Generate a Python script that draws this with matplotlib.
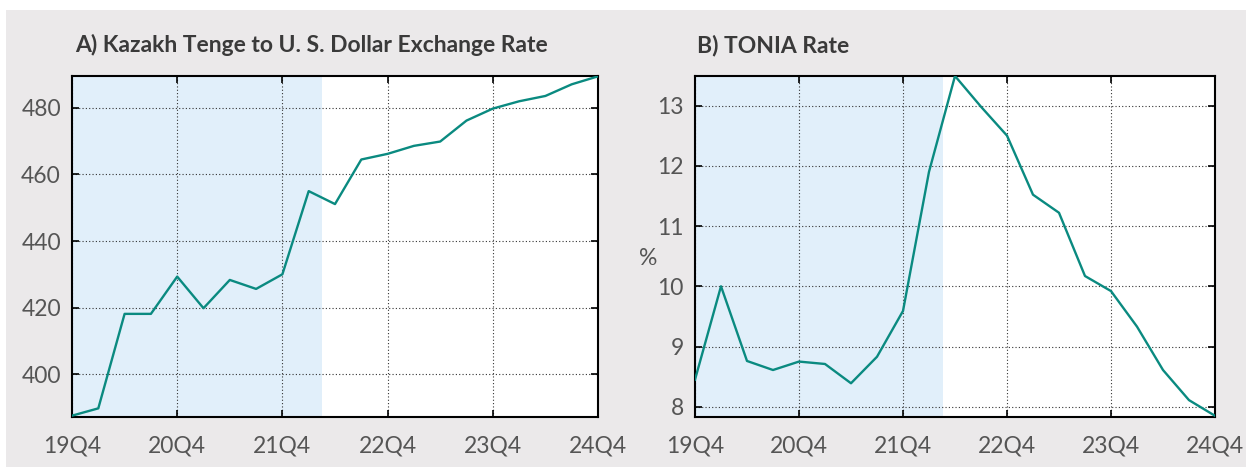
import numpy as np
import matplotlib
matplotlib.use("Agg")
import matplotlib.pyplot as plt
from matplotlib.patches import Rectangle

# quarters 19Q4 .. 24Q4
quarters = ['19Q4', '20Q1', '20Q2', '20Q3', '20Q4', '21Q1', '21Q2', '21Q3', '21Q4',
            '22Q1', '22Q2', '22Q3', '22Q4', '23Q1', '23Q2', '23Q3', '23Q4',
            '24Q1', '24Q2', '24Q3', '24Q4']
tick_labels = ['19Q4', '20Q4', '21Q4', '22Q4', '23Q4', '24Q4']

kzt_usd = [387.5, 389.7, 418.1, 418.1, 429.3, 419.8, 428.3, 425.6, 430.0,
           455.0, 451.1, 464.5, 466.2, 468.6, 469.9, 476.2, 479.8,
           482.0, 483.6, 487.1, 489.5]
tonia = [8.45, 10.0, 8.76, 8.61, 8.75, 8.71, 8.39, 8.83, 9.59,
         11.9, 13.49, 12.98, 12.5, 11.52, 11.22, 10.17, 9.92,
         9.33, 8.61, 8.11, 7.85]

shade_end = 9.52  # shaded period ends mid 22Q1/22Q2

bg = '#ebe9ea'
teal = '#0a8a80'
shade = '#e1effa'
text_col = '#555555'
title_col = '#3a3a3a'

plt.rcParams['font.family'] = ['Lato', 'DejaVu Sans']

W, H = 1246, 467
fig = plt.figure(figsize=(W / 100, H / 100), dpi=100, facecolor=bg)
# white strips along the top and left edge
fig.patches.append(Rectangle((0, 1 - 10 / H), 1, 10 / H, transform=fig.transFigure,
                             facecolor='white', edgecolor='none'))
fig.patches.append(Rectangle((0, 0), 6 / W, 1, transform=fig.transFigure,
                             facecolor='white', edgecolor='none'))

x = np.arange(len(quarters))
tick_pos = [quarters.index(q) for q in tick_labels]


def panel(rect, values, ylim, yticks, title, title_x, ylabel=None):
    ax = fig.add_axes(rect)
    ax.set_facecolor('white')
    ax.axvspan(0, shade_end, color=shade, lw=0, zorder=0)
    ax.plot(x, values, color=teal, lw=1.7, zorder=3, clip_on=True)
    ax.set_xlim(0, len(quarters) - 1)
    ax.set_ylim(*ylim)
    ax.set_xticks(tick_pos)
    ax.set_xticklabels(tick_labels)
    ax.set_yticks(yticks)
    ax.grid(True, color='#333333', linestyle=(0, (1, 2)), linewidth=0.8, zorder=1)
    ax.set_axisbelow(True)
    ax.tick_params(direction='in', length=5, width=1.2, top=True, right=True,
                   labelsize=16.5, labelcolor=text_col, colors='black')
    ax.tick_params(axis='x', pad=13)
    ax.tick_params(axis='y', pad=8)
    for sp in ax.spines.values():
        sp.set_linewidth(1.5)
        sp.set_color('black')
    if ylabel:
        ax.set_ylabel(ylabel, rotation=0, fontsize=16.5, color=text_col,
                      va='center', ha='center')
        ax.yaxis.set_label_coords(-0.09, 0.466)
    fig.text(title_x / W, 1 - 45 / H, title, fontsize=16.5, fontweight='bold',
             color=title_col, va='center', ha='left')
    return ax


bottom = (H - 417) / H
height = (417 - 76) / H
panel([72 / W, bottom, (598 - 72) / W, height], kzt_usd, (387.1, 489.6),
      [400, 420, 440, 460, 480], 'A) Kazakh Tenge to U. S. Dollar Exchange Rate', 75)
panel([695 / W, bottom, (1215 - 695) / W, height], tonia, (7.83, 13.49),
      [8, 9, 10, 11, 12, 13], 'B) TONIA Rate', 697, ylabel='%')

fig.savefig('out.png', dpi=100, facecolor=bg)
